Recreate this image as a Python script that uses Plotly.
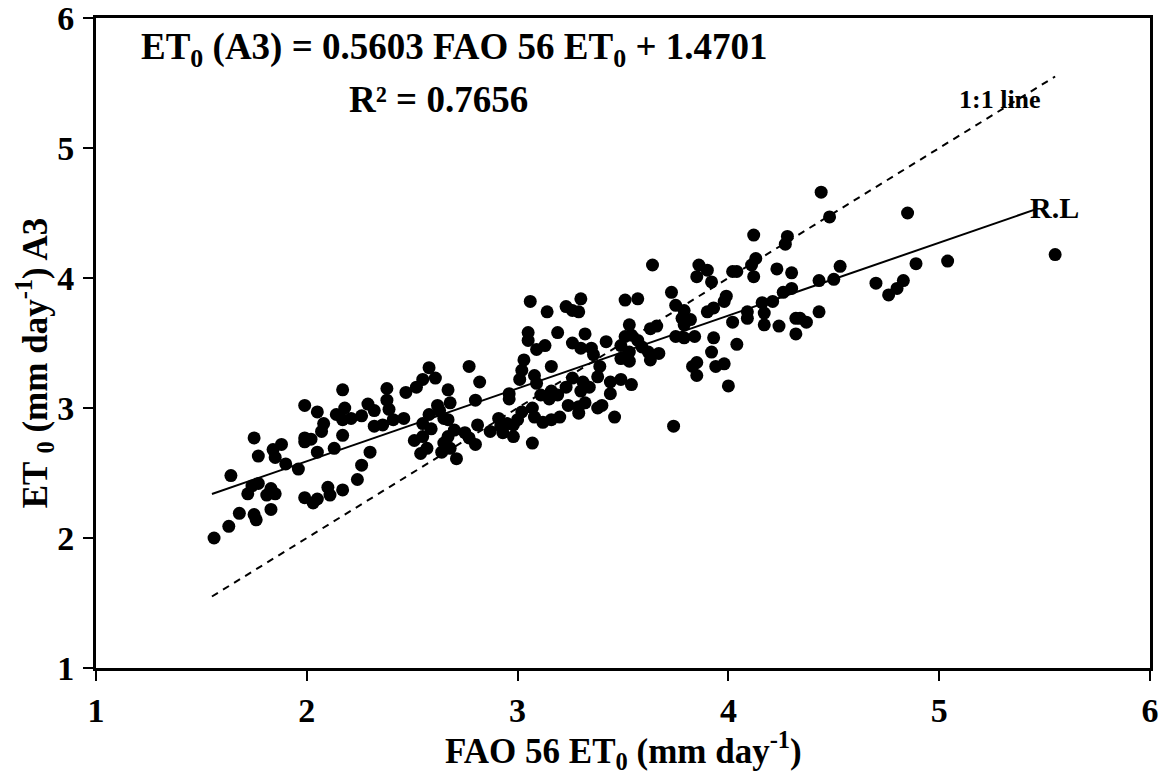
import plotly.graph_objects as go

# FAO 56 ET0 (x) vs ET0 A3 (y)
fao56_et0 = [
    2.17, 2.38, 2.47, 1.99, 2.05, 2.18, 2.29, 2.38, 2.39, 2.14, 2.17, 2.21, 2.26, 2.32, 2.32,
    2.36, 2.41, 2.46, 2.08, 2.07, 2.17, 1.99, 2.02, 1.99, 1.75, 1.88, 1.84, 2.05, 2.13, 2.30,
    1.77, 1.85, 1.90, 1.96, 2.26, 1.64, 2.24, 1.74, 1.77, 1.72, 1.83, 1.81, 1.85, 1.99, 2.03,
    2.05, 2.10, 2.11, 2.17, 1.68, 1.75, 1.76, 1.83, 1.63, 1.56,
    3.06, 3.14, 3.23, 3.30, 3.29, 3.26, 3.05, 3.05, 3.19, 3.32, 3.26, 3.30, 3.35, 3.42, 3.36,
    3.09, 3.13, 3.03, 3.16, 3.02, 3.08, 3.01, 3.09, 3.39, 3.38, 3.26, 3.31, 3.34, 3.44, 3.23,
    3.30, 3.16, 3.19, 3.11, 3.15, 3.44, 2.96, 2.96, 3.24, 3.29, 3.32, 3.38, 3.40, 3.29, 3.07,
    3.08, 3.12, 3.16, 3.20, 3.02, 3.46, 2.77, 2.82, 2.58, 2.61, 2.55, 2.52, 2.67, 2.68, 2.62,
    2.63, 2.80, 2.58, 2.55, 2.59, 2.65, 2.67, 2.70, 2.67, 2.55, 2.51, 2.54, 2.57, 2.65, 2.64,
    2.68, 2.71, 2.75, 2.77, 2.80, 2.81, 2.87, 2.91, 2.92, 2.95, 2.98, 2.93, 2.98, 3.00, 3.07,
    4.12, 4.28, 4.27, 3.64, 3.86, 3.90, 3.85, 3.92, 4.02, 4.04, 4.13, 4.11, 4.12, 4.23, 4.30,
    3.73, 3.51, 3.57, 3.75, 3.79, 3.99, 3.98, 3.93, 3.90, 3.78, 3.82, 3.79, 4.09, 4.09, 4.16,
    4.21, 4.17, 4.17, 4.24, 4.26, 4.30, 4.32, 4.32, 4.02, 3.53, 3.63, 3.66, 3.51, 3.54, 3.57,
    3.59, 3.49, 3.53, 3.53, 3.49, 3.62, 3.63, 3.67, 3.75, 3.79, 3.84, 3.93, 3.92, 4.04, 3.83,
    3.85, 3.85, 3.94, 3.98, 4.00, 3.49, 3.54, 3.74,
    4.44, 4.85, 4.48, 4.53, 4.43, 4.50, 4.70, 4.76, 4.80, 4.83, 4.89, 5.04, 4.43, 4.34, 4.37,
    5.55,
]
et0_a3 = [
    3.14, 3.15, 3.12, 3.02, 2.97, 3.00, 3.03, 3.06, 2.99, 2.95, 2.91, 2.92, 2.94, 2.98, 2.86,
    2.87, 2.91, 2.92, 2.88, 2.82, 2.79, 2.77, 2.76, 2.74, 2.77, 2.72, 2.68, 2.66, 2.69, 2.66,
    2.63, 2.62, 2.57, 2.53, 2.56, 2.48, 2.45, 2.40, 2.42, 2.34, 2.38, 2.33, 2.34, 2.31, 2.27,
    2.30, 2.39, 2.33, 2.37, 2.19, 2.18, 2.14, 2.22, 2.09, 2.00,
    3.82, 3.74, 3.78, 3.84, 3.74, 3.75, 3.58, 3.52, 3.58, 3.57, 3.50, 3.46, 3.46, 3.51, 3.41,
    3.45, 3.48, 3.37, 3.32, 3.29, 3.25, 3.22, 3.19, 3.32, 3.24, 3.23, 3.20, 3.16, 3.20, 3.16,
    3.13, 3.13, 3.10, 3.10, 3.07, 3.11, 3.11, 3.07, 3.02, 3.01, 3.04, 3.00, 3.02, 2.96, 3.00,
    2.93, 2.89, 2.91, 2.93, 2.97, 2.93, 3.32, 3.20, 3.31, 3.23, 3.22, 3.16, 3.14, 3.04, 3.02,
    2.98, 3.06, 2.95, 2.88, 2.84, 2.92, 2.91, 2.83, 2.78, 2.78, 2.75, 2.65, 2.69, 2.73, 2.66,
    2.69, 2.61, 2.81, 2.77, 2.72, 2.87, 2.82, 2.92, 2.86, 2.88, 2.87, 2.81, 2.78, 2.91, 2.73,
    4.33, 4.32, 4.26, 4.10, 4.10, 4.06, 4.01, 3.97, 4.05, 4.05, 4.15, 4.10, 4.01, 4.07, 4.04,
    3.89, 3.83, 3.84, 3.79, 3.75, 3.86, 3.82, 3.77, 3.74, 3.69, 3.68, 3.64, 3.74, 3.69, 3.81,
    3.82, 3.73, 3.64, 3.63, 3.89, 3.92, 3.69, 3.57, 3.66, 3.64, 3.61, 3.63, 3.55, 3.56, 3.52,
    3.47, 3.48, 3.43, 3.36, 3.38, 3.43, 3.37, 3.42, 3.55, 3.54, 3.55, 3.54, 3.43, 3.49, 3.32,
    3.35, 3.25, 3.32, 3.34, 3.17, 3.22, 3.18, 2.86,
    4.66, 4.50, 4.47, 4.09, 3.98, 3.99, 3.96, 3.87, 3.92, 3.98, 4.11, 4.13, 3.74, 3.69, 3.66,
    4.18,
]

slope = 0.5603
intercept = 1.4701
fit_x = [1.55, 5.45]
fit_y = [slope * v + intercept for v in fit_x]
one_to_one = [1.55, 5.55]

x_ticks = [1, 2, 3, 4, 5, 6]
y_ticks = [1, 2, 3, 4, 5, 6]

FONT = "Liberation Serif, Times New Roman, serif"

fig = go.Figure()
fig.add_trace(go.Scatter(x=one_to_one, y=one_to_one, mode="lines",
                         line=dict(color="black", width=2, dash="7px,6px"),
                         showlegend=False, hoverinfo="skip"))
fig.add_trace(go.Scatter(x=fit_x, y=fit_y, mode="lines",
                         line=dict(color="black", width=2),
                         showlegend=False, hoverinfo="skip"))
fig.add_trace(go.Scatter(x=fao56_et0, y=et0_a3, mode="markers",
                         marker=dict(color="black", size=13, line=dict(width=0)),
                         showlegend=False))

axis_common = dict(showgrid=False, zeroline=False, showline=True, linecolor="black",
                   linewidth=3, mirror=True, ticks="outside", ticklen=10, tickwidth=2,
                   tickcolor="black", automargin=False, ticklabeloverflow="allow",
                   tickfont=dict(family=FONT, size=34, color="black", weight="bold"))

fig.update_xaxes(range=[1, 6], tickvals=x_ticks, ticklabelstandoff=0, **axis_common)
fig.update_yaxes(range=[1, 6], tickvals=y_ticks, ticklabelstandoff=2, **axis_common)

title_font = dict(family=FONT, size=35, color="black", weight="bold")
fig.add_annotation(x=0.5, y=-0.127, xref="paper", yref="paper", showarrow=False,
                   text="FAO 56 ET<sub>0</sub> (mm day<sup>-1</sup>)", font=title_font,
                   xanchor="center", yanchor="middle")
fig.add_annotation(x=-0.058, y=0.47, xref="paper", yref="paper", showarrow=False,
                   text="ET <sub>0</sub> (mm day<sup>-1</sup>) A3", font=title_font,
                   textangle=-90, xanchor="center", yanchor="middle")

ann_font = dict(family=FONT, size=37, color="black", weight="bold")
fig.add_annotation(x=0.340, y=0.951, xref="paper", yref="paper", showarrow=False,
                   text="ET<sub>0</sub> (A3) = 0.5603 FAO 56 ET<sub>0</sub> + 1.4701",
                   font=ann_font, xanchor="center", yanchor="middle")
fig.add_annotation(x=0.325, y=0.874, xref="paper", yref="paper", showarrow=False,
                   text="R² = 0.7656", font=ann_font, xanchor="center", yanchor="middle")
fig.add_annotation(x=5.29, y=5.37, showarrow=False, text="1:1 line",
                   font=dict(family=FONT, size=26, color="black", weight="bold"),
                   xanchor="center", yanchor="middle")
fig.add_annotation(x=5.545, y=4.54, showarrow=False, text="R.L",
                   font=dict(family=FONT, size=30, color="black", weight="bold"),
                   xanchor="center", yanchor="middle")

# page body adds an 8px offset, so the figure is drawn 8px smaller and shifted
fig.update_layout(width=1159, height=766, plot_bgcolor="white", paper_bgcolor="white",
                  margin=dict(l=88, r=17, t=10, b=106, autoexpand=False))

fig.write_html("out.html")
